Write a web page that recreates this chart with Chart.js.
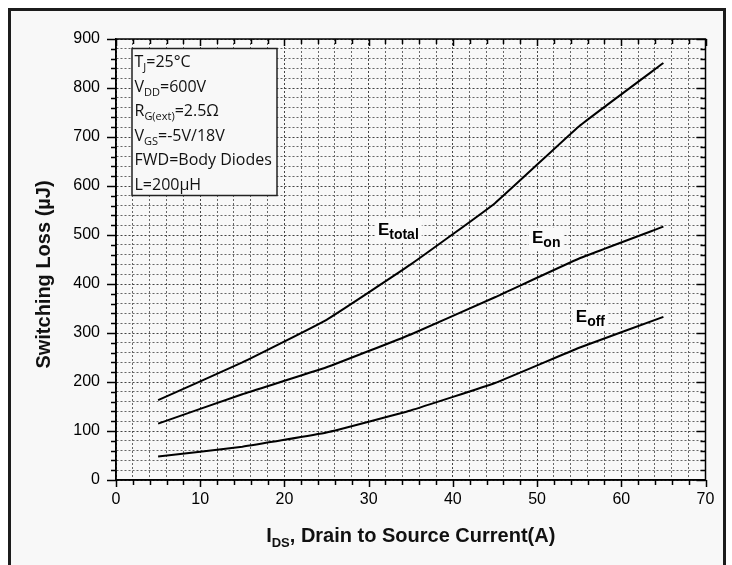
<!DOCTYPE html>
<html>
<head>
<meta charset="utf-8">
<script src="https://cdn.jsdelivr.net/npm/chart.js@4.4.1/dist/chart.umd.min.js"></script>
<style>
  body { margin: 0; background: #fff; }
  #frame {
    position: absolute; left: 8px; top: 8px; width: 712px; height: 620px;
    border: 3px solid #1c1c1c; background: #f8f8f8;
  }
  #wrap { position: absolute; left: 0; top: 0; width: 732px; height: 565px; }
</style>
</head>
<body>
<div id="frame"></div>
<div id="wrap"><canvas id="loss-chart" width="732" height="565"></canvas></div>
<script>
// drain current (A) and switching energy (uJ)
var current = [5, 15, 25, 35, 45, 55, 65];
var eTotal = [163, 240, 327, 440, 565, 722, 851];
var eOn = [115, 175, 230, 297, 373, 452, 517];
var eOff = [48, 68, 97, 142, 198, 270, 333];

var seriesNames = ['Etotal', 'Eon', 'Eoff'];
// label anchors in data units (x in A, y in uJ)
var labelX = [31.1, 49.4, 54.6];
var labelY = [501, 483, 323];
var labelSub = ['total', 'on', 'off'];

var conditions = [
    ['T', 'J', '=25°C'],
    ['V', 'DD', '=600V'],
    ['R', 'G(ext)', '=2.5Ω'],
    ['V', 'GS', '=-5V/18V'],
    ['FWD=Body Diodes', '', ''],
    ['L=200µH', '', '']
];

function toPoints(ys) {
    return current.map((c, i) => ({ x: c, y: ys[i] }));
}

// draw "main" + subscript + rest, starting at x, on a baseline
function subText(ctx, x, y, main, sub, rest, font, subFont, drop) {
    ctx.font = font;
    ctx.fillText(main, x, y);
    x += ctx.measureText(main).width;
    if (sub) {
        ctx.font = subFont;
        ctx.fillText(sub, x, y + drop);
        x += ctx.measureText(sub).width;
    }
    if (rest) {
        ctx.font = font;
        ctx.fillText(rest, x, y);
        x += ctx.measureText(rest).width;
    }
    return x;
}

function subWidth(ctx, main, sub, rest, font, subFont) {
    ctx.font = font;
    var w = ctx.measureText(main + rest).width;
    ctx.font = subFont;
    return w + ctx.measureText(sub).width;
}

var decorations = {
    id: 'decorations',
    afterDraw(chart) {
        var ctx = chart.ctx, a = chart.chartArea;
        var x = chart.scales.x, y = chart.scales.y;
        ctx.save();

        // plot frame
        ctx.strokeStyle = '#000';
        ctx.lineWidth = 1.5;
        ctx.strokeRect(a.left, a.top, a.right - a.left, a.bottom - a.top);

        // tick marks: outward on bottom/left, inward on top/right
        ctx.lineWidth = 1.5;
        ctx.beginPath();
        for (var v = x.min; v <= x.max; v += 2) {
            var px = Math.round(x.getPixelForValue(v)) + 0.5;
            var len = v % 10 === 0 ? 7 : 5;
            ctx.moveTo(px, a.bottom); ctx.lineTo(px, a.bottom + len);
            ctx.moveTo(px, a.top); ctx.lineTo(px, a.top + len);
        }
        for (var w = y.min; w <= y.max; w += 20) {
            var py = Math.round(y.getPixelForValue(w)) + 0.5;
            var l2 = w % 100 === 0 ? 9 : 5;
            ctx.moveTo(a.left, py); ctx.lineTo(a.left - l2, py);
            ctx.moveTo(a.right, py); ctx.lineTo(a.right - l2, py);
        }
        ctx.stroke();

        // test conditions box
        var bx = a.left + 16, by = a.top + 9.5, bw = 145, bh = 147;
        ctx.fillStyle = '#f8f8f8';
        ctx.fillRect(bx, by, bw, bh);
        ctx.strokeStyle = '#222';
        ctx.lineWidth = 1.5;
        ctx.strokeRect(bx, by, bw, bh);
        ctx.fillStyle = '#111';
        ctx.textBaseline = 'alphabetic';
        ctx.textAlign = 'left';
        conditions.forEach(function(c, i) {
            subText(ctx, bx + 2.5, by + 18.5 + i * 24.5, c[0], c[1], c[2],
                '16px "Open Sans"', '11px "Open Sans"', 4);
        });

        // curve labels
        for (var k = 0; k < seriesNames.length; k++) {
            var lx = x.getPixelForValue(labelX[k]);
            var ly = y.getPixelForValue(labelY[k]);
            var lw = subWidth(ctx, 'E', labelSub[k], '', 'bold 17px "Liberation Sans"', 'bold 14px "Liberation Sans"');
            ctx.fillStyle = '#fafafa';
            ctx.fillRect(lx - 3, ly - 16, lw + 6, 24);
            ctx.fillStyle = '#000';
            subText(ctx, lx, ly, 'E', labelSub[k], '', 'bold 17px "Liberation Sans"', 'bold 14px "Liberation Sans"', 4);
        }

        // x axis title
        var tf = 'bold 20px "Liberation Sans"', sf = 'bold 13px "Liberation Sans"';
        var tw = subWidth(ctx, 'I', 'DS', ', Drain to Source Current(A)', tf, sf);
        ctx.fillStyle = '#111';
        subText(ctx, (a.left + a.right) / 2 - tw / 2, 542, 'I', 'DS', ', Drain to Source Current(A)', tf, sf, 5);

        // y axis title
        ctx.translate(44.5, (a.top + a.bottom) / 2 + 15);
        ctx.rotate(-Math.PI / 2);
        ctx.font = 'bold 20px "Liberation Sans"';
        ctx.textAlign = 'center';
        ctx.textBaseline = 'middle';
        ctx.fillText('Switching Loss (µJ)', 0, 0);
        ctx.restore();
    }
};

function gridColor(c) {
    return c.tick && c.tick.value % (c.scale.axis === 'x' ? 10 : 100) === 0 ? '#444' : '#666';
}

var ctx = document.getElementById('loss-chart').getContext('2d');
var chart = new Chart(ctx, {
    type: 'line',
    data: {
        datasets: [
            { label: 'Etotal', data: toPoints(eTotal) },
            { label: 'Eon', data: toPoints(eOn) },
            { label: 'Eoff', data: toPoints(eOff) }
        ]
    },
    options: {
        responsive: false,
        animation: false,
        layout: { padding: { top: 39, right: 26.5, left: 0, bottom: 0 } },
        elements: {
            line: { borderColor: '#000', borderWidth: 2, tension: 0.1 },
            point: { radius: 0 }
        },
        plugins: { legend: { display: false }, tooltip: { enabled: false } },
        scales: {
            x: {
                type: 'linear',
                min: 0, max: 70,
                afterFit: function(s) { s.height = 85; },
                grid: { color: gridColor, lineWidth: 1, drawTicks: false },
                border: { display: true, color: '#000', width: 1.5, dash: [2, 2] },
                ticks: {
                    stepSize: 2, autoSkip: false, maxRotation: 0, padding: 10,
                    color: '#000', font: { family: 'Liberation Sans', size: 16 },
                    callback: function(v) { return v % 10 === 0 ? v : ''; }
                }
            },
            y: {
                min: 0, max: 900,
                afterFit: function(s) { s.width = 116; },
                grid: { color: gridColor, lineWidth: 1, drawTicks: false },
                border: { display: true, color: '#000', width: 1.5, dash: [2, 2] },
                ticks: {
                    stepSize: 20, autoSkip: false, padding: 16,
                    color: '#000', font: { family: 'Liberation Sans', size: 16 },
                    callback: function(v) { return v % 100 === 0 ? v : ''; }
                }
            }
        }
    },
    plugins: [decorations]
});
</script>
</body>
</html>
